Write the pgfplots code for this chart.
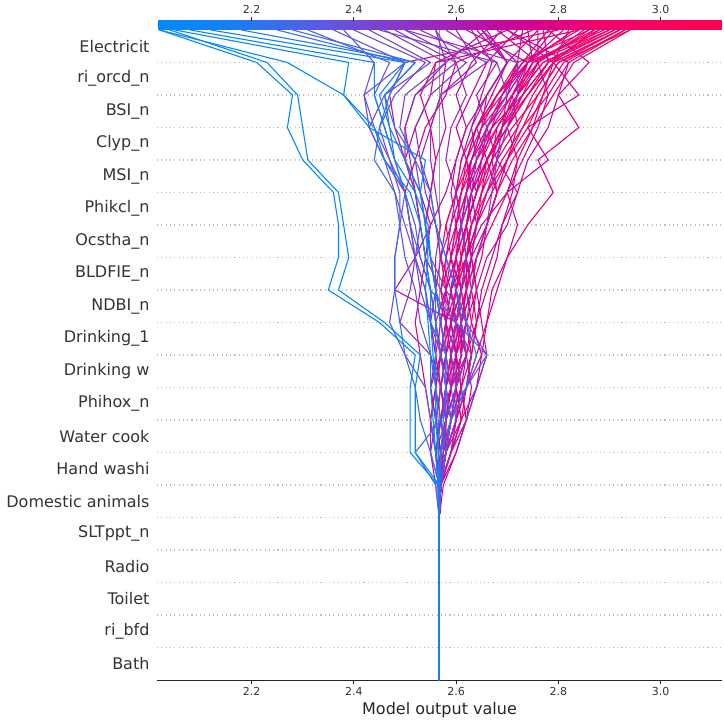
\documentclass[border=0pt]{standalone}
\usepackage{fontspec}
\setmainfont{DejaVu Sans}
\usepackage{pgfplots}
\usepackage{pgfplotstable}
\pgfplotsset{compat=1.18}
\pgfkeys{/pgf/number format/assume math mode=true}

\pgfplotstableread{
name 0 5 6 7 8 9 10 11 12 13 14 15 16 17 18 19 20
R1 2.567 2.567 2.57 2.58 2.57 2.58 2.59 2.60 2.59 2.60 2.62 2.64 2.67 2.71 2.76 2.80 2.94
R2 2.567 2.567 2.568 2.57 2.58 2.59 2.58 2.59 2.60 2.62 2.63 2.66 2.69 2.73 2.78 2.82 2.93
R3 2.567 2.567 2.57 2.59 2.60 2.60 2.61 2.60 2.61 2.60 2.61 2.63 2.66 2.70 2.74 2.79 2.92
R4 2.567 2.567 2.566 2.57 2.56 2.57 2.58 2.58 2.57 2.59 2.60 2.62 2.65 2.68 2.72 2.77 2.91
R5 2.567 2.567 2.57 2.58 2.60 2.61 2.60 2.59 2.60 2.61 2.60 2.61 2.63 2.66 2.71 2.75 2.90
R6 2.567 2.567 2.567 2.56 2.57 2.58 2.59 2.58 2.58 2.57 2.58 2.60 2.62 2.65 2.70 2.74 2.89
R7 2.567 2.567 2.57 2.58 2.59 2.58 2.57 2.58 2.59 2.60 2.61 2.62 2.64 2.67 2.73 2.78 2.88
R8 2.567 2.567 2.568 2.59 2.62 2.63 2.62 2.61 2.60 2.61 2.63 2.65 2.68 2.72 2.75 2.79 2.87
R9 2.567 2.567 2.57 2.57 2.58 2.60 2.61 2.61 2.62 2.62 2.61 2.60 2.61 2.64 2.68 2.72 2.86
R10 2.567 2.567 2.565 2.57 2.58 2.59 2.59 2.60 2.62 2.63 2.64 2.65 2.66 2.69 2.73 2.76 2.85
R11 2.567 2.567 2.57 2.58 2.58 2.57 2.58 2.59 2.58 2.58 2.59 2.61 2.64 2.66 2.69 2.73 2.84
R12 2.567 2.567 2.568 2.57 2.59 2.60 2.60 2.59 2.60 2.62 2.64 2.66 2.70 2.74 2.77 2.81 2.93
R13 2.567 2.567 2.57 2.58 2.57 2.56 2.57 2.58 2.60 2.61 2.62 2.63 2.66 2.69 2.72 2.77 2.90
R14 2.567 2.567 2.566 2.57 2.58 2.59 2.60 2.62 2.61 2.60 2.60 2.62 2.63 2.65 2.68 2.74 2.88
R15 2.567 2.567 2.57 2.59 2.61 2.62 2.63 2.62 2.61 2.62 2.64 2.67 2.70 2.73 2.76 2.80 2.92
R16 2.567 2.567 2.568 2.58 2.59 2.58 2.59 2.60 2.61 2.59 2.58 2.60 2.63 2.67 2.71 2.76 2.86
R17 2.567 2.567 2.57 2.575 2.58 2.59 2.58 2.57 2.58 2.59 2.60 2.61 2.62 2.64 2.69 2.74 2.83
R18 2.567 2.567 2.567 2.57 2.58 2.60 2.62 2.63 2.64 2.63 2.62 2.64 2.66 2.70 2.74 2.78 2.91
R19 2.567 2.567 2.57 2.56 2.55 2.56 2.57 2.56 2.55 2.54 2.53 2.52 2.50 2.48 2.47 2.50 2.80
R20 2.567 2.567 2.566 2.57 2.58 2.57 2.56 2.57 2.56 2.55 2.54 2.55 2.56 2.55 2.53 2.56 2.84
R21 2.567 2.567 2.57 2.59 2.61 2.60 2.62 2.61 2.63 2.64 2.66 2.68 2.71 2.75 2.79 2.83 2.94
R22 2.567 2.567 2.566 2.57 2.59 2.61 2.60 2.60 2.62 2.61 2.62 2.64 2.66 2.69 2.74 2.79 2.92
R23 2.567 2.567 2.57 2.56 2.58 2.59 2.61 2.62 2.60 2.62 2.63 2.62 2.64 2.68 2.72 2.75 2.87
M1 2.567 2.567 2.57 2.58 2.59 2.60 2.60 2.61 2.62 2.63 2.62 2.64 2.65 2.66 2.64 2.68 2.58
M2 2.567 2.567 2.565 2.56 2.57 2.58 2.59 2.60 2.61 2.63 2.64 2.66 2.68 2.69 2.70 2.74 2.62
M3 2.567 2.567 2.57 2.59 2.60 2.62 2.63 2.64 2.65 2.67 2.69 2.72 2.74 2.78 2.80 2.82 2.70
M4 2.567 2.567 2.568 2.57 2.56 2.57 2.58 2.57 2.58 2.60 2.61 2.62 2.63 2.65 2.66 2.70 2.66
M5 2.567 2.567 2.566 2.58 2.60 2.61 2.62 2.60 2.59 2.62 2.65 2.70 2.73 2.76 2.78 2.76 2.68
M6 2.567 2.567 2.57 2.575 2.58 2.59 2.57 2.56 2.58 2.60 2.62 2.64 2.62 2.60 2.63 2.66 2.72
M7 2.567 2.567 2.57 2.60 2.62 2.61 2.60 2.59 2.61 2.63 2.66 2.68 2.70 2.72 2.71 2.75 2.74
M8 2.567 2.567 2.565 2.57 2.58 2.57 2.56 2.55 2.56 2.55 2.54 2.55 2.53 2.55 2.57 2.64 2.60
M9 2.567 2.567 2.57 2.58 2.58 2.59 2.60 2.62 2.64 2.63 2.62 2.63 2.66 2.70 2.72 2.76 2.76
M10 2.567 2.567 2.57 2.58 2.60 2.62 2.64 2.66 2.68 2.70 2.74 2.79 2.76 2.84 2.80 2.86 2.78
M11 2.567 2.567 2.575 2.60 2.62 2.64 2.65 2.66 2.67 2.70 2.72 2.70 2.78 2.74 2.84 2.79 2.70
M12 2.567 2.567 2.567 2.58 2.61 2.64 2.66 2.65 2.64 2.66 2.70 2.72 2.68 2.66 2.70 2.72 2.65
M13 2.567 2.567 2.56 2.55 2.55 2.56 2.57 2.58 2.57 2.58 2.60 2.59 2.60 2.62 2.60 2.63 2.69
M14 2.567 2.567 2.57 2.57 2.58 2.58 2.59 2.58 2.59 2.61 2.63 2.65 2.67 2.68 2.72 2.74 2.79
M15 2.567 2.567 2.568 2.59 2.61 2.60 2.59 2.61 2.63 2.62 2.61 2.63 2.62 2.64 2.67 2.70 2.76
M16 2.567 2.567 2.565 2.57 2.56 2.55 2.57 2.59 2.61 2.62 2.64 2.63 2.65 2.67 2.69 2.72 2.73
M17 2.567 2.567 2.57 2.58 2.59 2.61 2.63 2.64 2.66 2.68 2.69 2.71 2.72 2.70 2.73 2.78 2.77
M18 2.567 2.567 2.57 2.56 2.57 2.59 2.60 2.58 2.56 2.57 2.59 2.60 2.58 2.59 2.62 2.60 2.56
M19 2.567 2.567 2.566 2.57 2.58 2.57 2.58 2.60 2.59 2.60 2.61 2.60 2.61 2.63 2.65 2.67 2.63
M20 2.567 2.567 2.57 2.58 2.57 2.58 2.60 2.61 2.62 2.64 2.66 2.68 2.66 2.64 2.68 2.73 2.78
M21 2.567 2.567 2.57 2.56 2.55 2.54 2.53 2.52 2.53 2.54 2.55 2.53 2.50 2.52 2.55 2.56 2.70
M22 2.567 2.567 2.565 2.57 2.56 2.55 2.56 2.55 2.54 2.52 2.51 2.50 2.52 2.54 2.58 2.60 2.75
M23 2.567 2.567 2.57 2.58 2.59 2.58 2.57 2.58 2.59 2.57 2.56 2.55 2.56 2.58 2.57 2.58 2.66
M24 2.567 2.567 2.568 2.57 2.58 2.60 2.62 2.60 2.48 2.52 2.55 2.58 2.60 2.62 2.66 2.70 2.65
M25 2.567 2.567 2.57 2.58 2.57 2.59 2.62 2.64 2.63 2.65 2.66 2.68 2.67 2.69 2.71 2.74 2.81
M26 2.567 2.567 2.568 2.57 2.58 2.60 2.59 2.61 2.60 2.59 2.61 2.62 2.64 2.63 2.66 2.70 2.64
M27 2.567 2.567 2.566 2.575 2.59 2.62 2.65 2.63 2.62 2.64 2.67 2.70 2.72 2.75 2.77 2.79 2.82
P1 2.567 2.567 2.566 2.56 2.55 2.54 2.50 2.47 2.48 2.48 2.49 2.50 2.47 2.44 2.42 2.50 2.36
P2 2.567 2.567 2.57 2.58 2.57 2.56 2.55 2.53 2.52 2.50 2.49 2.49 2.47 2.45 2.48 2.54 2.40
P3 2.567 2.567 2.565 2.57 2.58 2.58 2.57 2.55 2.53 2.52 2.51 2.50 2.46 2.43 2.46 2.55 2.43
P4 2.567 2.567 2.568 2.59 2.62 2.64 2.66 2.62 2.58 2.55 2.54 2.53 2.52 2.49 2.50 2.58 2.46
P5 2.567 2.567 2.567 2.55 2.56 2.57 2.55 2.49 2.51 2.52 2.53 2.52 2.50 2.50 2.52 2.60 2.48
P6 2.567 2.567 2.57 2.575 2.58 2.60 2.62 2.61 2.60 2.58 2.56 2.54 2.53 2.52 2.55 2.62 2.50
P7 2.567 2.567 2.566 2.56 2.57 2.58 2.58 2.57 2.56 2.56 2.57 2.56 2.55 2.55 2.57 2.66 2.53
P8 2.567 2.567 2.57 2.58 2.60 2.59 2.58 2.55 2.54 2.52 2.50 2.48 2.46 2.43 2.42 2.44 2.38
P9 2.567 2.567 2.57 2.58 2.59 2.60 2.61 2.62 2.63 2.64 2.66 2.67 2.68 2.70 2.72 2.72 2.50
P10 2.567 2.567 2.568 2.57 2.58 2.60 2.59 2.60 2.61 2.62 2.61 2.63 2.64 2.66 2.70 2.68 2.45
P11 2.567 2.567 2.57 2.58 2.60 2.62 2.63 2.60 2.57 2.54 2.53 2.52 2.51 2.50 2.52 2.58 2.56
BP1 2.567 2.567 2.567 2.55 2.53 2.52 2.50 2.49 2.48 2.48 2.49 2.48 2.44 2.45 2.47 2.50 2.25
BP2 2.567 2.567 2.56 2.52 2.57 2.62 2.66 2.60 2.55 2.53 2.51 2.50 2.48 2.47 2.46 2.52 2.28
BP3 2.567 2.567 2.57 2.58 2.59 2.58 2.57 2.56 2.55 2.53 2.52 2.50 2.48 2.46 2.44 2.47 2.31
B1 2.567 2.567 2.565 2.51 2.51 2.51 2.52 2.45 2.35 2.37 2.37 2.36 2.30 2.27 2.28 2.21 2.02
B2 2.567 2.567 2.567 2.52 2.52 2.52 2.53 2.46 2.37 2.39 2.38 2.37 2.31 2.30 2.29 2.23 2.04
B3 2.567 2.567 2.565 2.56 2.555 2.55 2.55 2.545 2.54 2.545 2.54 2.53 2.54 2.43 2.38 2.27 2.02
B4 2.567 2.567 2.567 2.565 2.56 2.56 2.555 2.55 2.55 2.54 2.53 2.51 2.46 2.44 2.38 2.39 2.05
B5 2.567 2.567 2.566 2.565 2.565 2.56 2.56 2.56 2.56 2.55 2.545 2.52 2.48 2.46 2.44 2.44 2.08
B6 2.567 2.567 2.567 2.57 2.575 2.58 2.58 2.57 2.56 2.55 2.54 2.53 2.50 2.47 2.45 2.50 2.12
B7 2.567 2.567 2.568 2.57 2.59 2.62 2.64 2.62 2.60 2.58 2.56 2.55 2.52 2.48 2.46 2.52 2.18
}\rawlines
\pgfplotstabletranspose[colnames from=name, input colnames to=yy]\linetab{\rawlines}

% #2: position of the line's output value on the colour bar (0 = 2.015, 1000 = 3.12)
\newcommand{\drawline}[2]{\addplot[color of colormap={#2}, line width=1.1pt, line join=round] table[x=#1, y=yy] {\linetab};}

\begin{document}
\begin{tikzpicture}
\begin{axis}[
  scale only axis, width=565pt, height=650pt,
  xmin=2.015, xmax=3.12, ymin=0, ymax=20,
  axis lines*=left, axis line style={-},
  x axis line style={black!85, line width=0.9pt},
  y axis line style={draw=none},
  ytick={0.5,1.5,2.5,3.5,4.5,5.5,6.5,7.5,8.5,9.5,10.5,11.5,12.5,13.5,14.5,15.5,16.5,17.5,18.5,19.5},
  yticklabels={Bath,ri\_bfd,Toilet,Radio,SLTppt\_n,Domestic animals,Hand washi,Water cook,Phihox\_n,Drinking w,Drinking\_1,NDBI\_n,BLDFIE\_n,Ocstha\_n,Phikcl\_n,MSI\_n,Clyp\_n,BSI\_n,ri\_orcd\_n,Electricit},
  ytick style={draw=none},
  yticklabel style={font=\fontsize{16}{18}\selectfont, text=black!80},
  xtick={2.2,2.4,2.6,2.8,3.0},
  xticklabel style={font=\fontsize{11}{13}\selectfont, text=black!80, /pgf/number format/.cd, fixed, fixed zerofill, precision=1},
  xtick style={black!85, line width=0.8pt},
  tick align=outside, major tick length=4pt,
  xlabel={Model output value},
  xlabel style={font=\fontsize{16}{18}\selectfont, text=black!85},
  extra y ticks={1,2,3,4,5,6,7,8,9,10,11,12,13,14,15,16,17,18,19},
  extra y tick labels={},
  extra y tick style={grid=major, major grid style={black!25, line width=1.1pt, dash pattern=on 1.1pt off 3.2pt}, tick style={draw=none}},
  colormap={shap}{rgb255(0pt)=(0,139,251); rgb255(12pt)=(20,128,248); rgb255(30pt)=(95,88,228); rgb255(48pt)=(152,42,192); rgb255(64pt)=(207,0,152); rgb255(78pt)=(243,0,108); rgb255(100pt)=(255,0,82)},
  point meta min=2.015, point meta max=3.12,
  colorbar horizontal,
  colorbar style={
    at={(0,1)}, anchor=south west,
    height=9pt,
    xtick={2.2,2.4,2.6,2.8,3.0},
    xtick pos=right, xticklabel pos=right,
    xticklabel style={font=\fontsize{11}{13}\selectfont, text=black!80, /pgf/number format/.cd, fixed, fixed zerofill, precision=1},
    axis line style={draw=none},
    xtick style={black!85, line width=0.8pt},
    major tick length=4pt, tick align=outside,
  },
]
\addplot[black!40, line width=1.2pt] coordinates {(2.567,0) (2.567,20)};
\drawline{R1}{837}\drawline{R2}{828}\drawline{R3}{819}\drawline{R4}{810}
\drawline{R5}{801}\drawline{R6}{792}\drawline{R7}{783}\drawline{R8}{774}
\drawline{R9}{765}\drawline{R10}{756}\drawline{R11}{747}\drawline{R12}{828}
\drawline{R13}{801}\drawline{R14}{783}\drawline{R15}{819}\drawline{R16}{765}
\drawline{R17}{738}\drawline{R18}{810}\drawline{R19}{710}\drawline{R20}{747}
\drawline{R21}{837}\drawline{R22}{819}\drawline{R23}{774}
\drawline{M1}{511}\drawline{M2}{548}\drawline{M3}{620}\drawline{M4}{584}
\drawline{M5}{602}\drawline{M6}{638}\drawline{M7}{656}\drawline{M8}{529}
\drawline{M9}{674}\drawline{M10}{692}\drawline{M11}{620}\drawline{M12}{575}
\drawline{M13}{611}\drawline{M14}{701}\drawline{M15}{674}\drawline{M16}{647}
\drawline{M17}{683}\drawline{M18}{493}\drawline{M19}{557}\drawline{M20}{692}
\drawline{M21}{620}\drawline{M22}{665}\drawline{M23}{584}\drawline{M24}{575}
\drawline{M25}{719}\drawline{M26}{566}\drawline{M27}{729}
\drawline{P1}{312}\drawline{P2}{348}\drawline{P3}{376}\drawline{P4}{403}
\drawline{P5}{421}\drawline{P6}{439}\drawline{P7}{466}\drawline{P8}{330}
\drawline{P9}{439}\drawline{P10}{394}\drawline{P11}{493}
\drawline{BP1}{213}\drawline{BP2}{240}\drawline{BP3}{267}
\drawline{B1}{5}\drawline{B2}{23}\drawline{B3}{5}\drawline{B4}{32}
\drawline{B5}{59}\drawline{B6}{95}\drawline{B7}{149}
\end{axis}
\path ([xshift=-157pt,yshift=-42pt]current axis.south west) rectangle ([xshift=2pt,yshift=30pt]current axis.north east);
\end{tikzpicture}
\end{document}
